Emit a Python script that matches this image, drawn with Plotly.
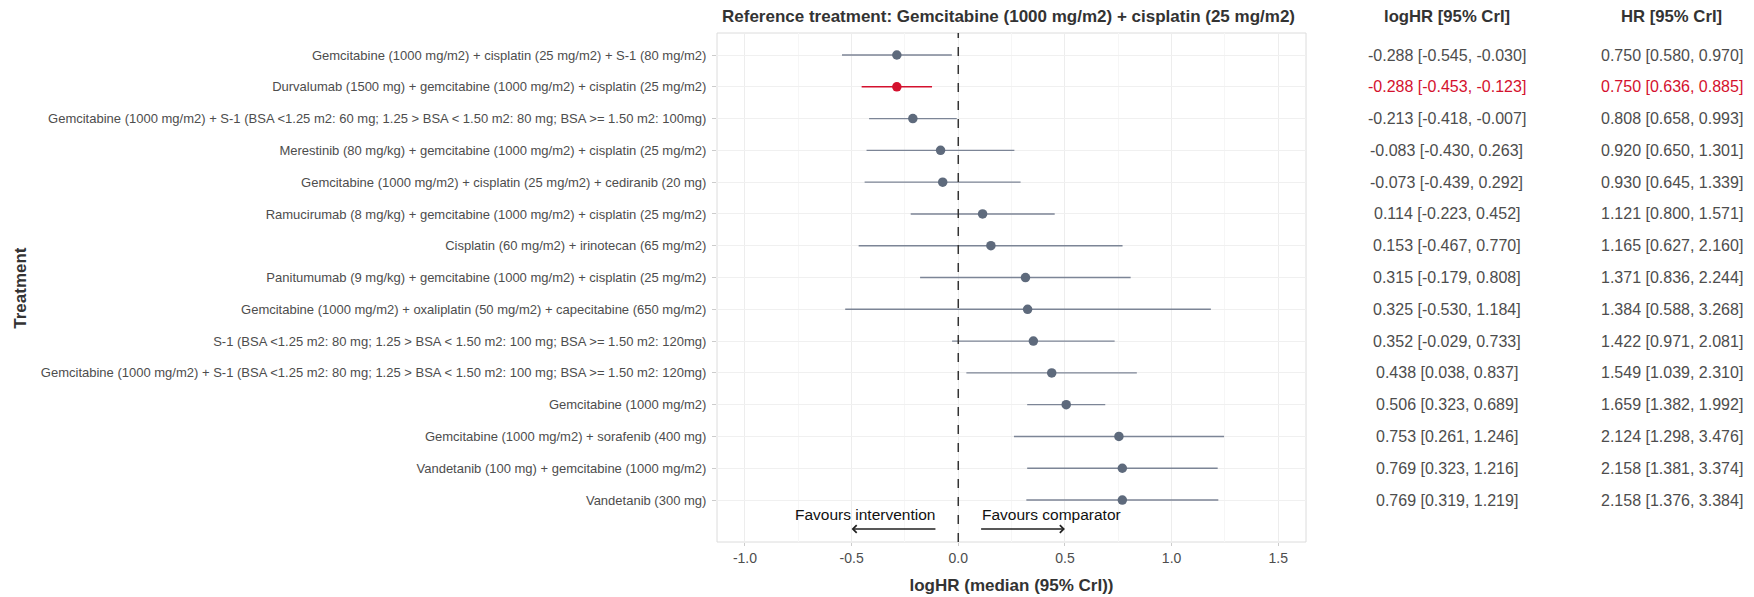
import plotly.graph_objects as go

# ---------------- data ----------------
treatments = [
    "Gemcitabine (1000 mg/m2) + cisplatin (25 mg/m2) + S-1 (80 mg/m2)",
    "Durvalumab (1500 mg) + gemcitabine (1000 mg/m2) + cisplatin (25 mg/m2)",
    "Gemcitabine (1000 mg/m2) + S-1 (BSA <1.25 m2: 60 mg; 1.25 > BSA < 1.50 m2: 80 mg; BSA >= 1.50 m2: 100mg)",
    "Merestinib (80 mg/kg) + gemcitabine (1000 mg/m2) + cisplatin (25 mg/m2)",
    "Gemcitabine (1000 mg/m2) + cisplatin (25 mg/m2) + cediranib (20 mg)",
    "Ramucirumab (8 mg/kg) + gemcitabine (1000 mg/m2) + cisplatin (25 mg/m2)",
    "Cisplatin (60 mg/m2) + irinotecan (65 mg/m2)",
    "Panitumumab (9 mg/kg) + gemcitabine (1000 mg/m2) + cisplatin (25 mg/m2)",
    "Gemcitabine (1000 mg/m2) + oxaliplatin (50 mg/m2) + capecitabine (650 mg/m2)",
    "S-1 (BSA <1.25 m2: 80 mg; 1.25 > BSA < 1.50 m2: 100 mg; BSA >= 1.50 m2: 120mg)",
    "Gemcitabine (1000 mg/m2) + S-1 (BSA <1.25 m2: 80 mg; 1.25 > BSA < 1.50 m2: 100 mg; BSA >= 1.50 m2: 120mg)",
    "Gemcitabine (1000 mg/m2)",
    "Gemcitabine (1000 mg/m2) + sorafenib (400 mg)",
    "Vandetanib (100 mg) + gemcitabine (1000 mg/m2)",
    "Vandetanib (300 mg)",
]
loghr_median = [-0.288, -0.288, -0.213, -0.083, -0.073, 0.114, 0.153, 0.315, 0.325, 0.352, 0.438, 0.506, 0.753, 0.769, 0.769]
loghr_lower = [-0.545, -0.453, -0.418, -0.430, -0.439, -0.223, -0.467, -0.179, -0.530, -0.029, 0.038, 0.323, 0.261, 0.323, 0.319]
loghr_upper = [-0.030, -0.123, -0.007, 0.263, 0.292, 0.452, 0.770, 0.808, 1.184, 0.733, 0.837, 0.689, 1.246, 1.216, 1.219]
hr_median = [0.750, 0.750, 0.808, 0.920, 0.930, 1.121, 1.165, 1.371, 1.384, 1.422, 1.549, 1.659, 2.124, 2.158, 2.158]
hr_lower = [0.580, 0.636, 0.658, 0.650, 0.645, 0.800, 0.627, 0.836, 0.588, 0.971, 1.039, 1.382, 1.298, 1.381, 1.376]
hr_upper = [0.970, 0.885, 0.993, 1.301, 1.339, 1.571, 2.160, 2.244, 3.268, 2.081, 2.310, 1.992, 3.476, 3.374, 3.384]
highlight = "Durvalumab (1500 mg) + gemcitabine (1000 mg/m2) + cisplatin (25 mg/m2)"
x_ticks = [-1.0, -0.5, 0.0, 0.5, 1.0, 1.5]
x_tick_labels = ["-1.0", "-0.5", "0.0", "0.5", "1.0", "1.5"]

title_text = "Reference treatment: Gemcitabine (1000 mg/m2) + cisplatin (25 mg/m2)"
arrow_left_text = "Favours intervention"
arrow_right_text = "Favours comparator"

# ---------------- style ----------------
FONT = "Liberation Sans, Arial, sans-serif"
GREY_PT = "#5e6a7c"
GREY_LN = "#7c8596"
RED = "#d4112e"
TXT = "#4d4d4d"
HDR = "#333333"

rows = list(range(1, len(treatments) + 1))
is_hl = [t == highlight for t in treatments]

fig = go.Figure()
for flag, pcol, lcol in [(False, GREY_PT, GREY_LN), (True, RED, RED)]:
    idx = [i for i in range(len(treatments)) if is_hl[i] == flag]
    fig.add_trace(go.Scatter(
        x=[loghr_median[i] for i in idx],
        y=[rows[i] for i in idx],
        mode="markers",
        marker=dict(size=9.5, color=pcol),
        error_x=dict(
            type="data", symmetric=False,
            array=[loghr_upper[i] - loghr_median[i] for i in idx],
            arrayminus=[loghr_median[i] - loghr_lower[i] for i in idx],
            color=lcol, thickness=1.4, width=0,
        ),
        showlegend=False,
        hoverinfo="skip",
    ))

# reference dashed line
fig.add_shape(type="line", xref="x", yref="paper", x0=0, x1=0, y0=0, y1=1,
              line=dict(color="#333333", width=1.5, dash="dash"), layer="above")
# panel border
fig.add_shape(type="rect", xref="paper", yref="paper", x0=0, x1=1, y0=0, y1=1,
              line=dict(color="#dcdcdc", width=1), layer="below")

# table columns (paper coords relative to panel)
col_loghr_x = 1.239
col_hr_x = 1.621
ann = []
for i, t in enumerate(treatments):
    c = RED if is_hl[i] else TXT
    ann.append(dict(xref="paper", yref="y", x=col_loghr_x, y=rows[i], showarrow=False,
                    text=f"{loghr_median[i]:.3f} [{loghr_lower[i]:.3f}, {loghr_upper[i]:.3f}]",
                    font=dict(family=FONT, size=16, color=c), xanchor="center", yanchor="middle"))
    ann.append(dict(xref="paper", yref="y", x=col_hr_x, y=rows[i], showarrow=False,
                    text=f"{hr_median[i]:.3f} [{hr_lower[i]:.3f}, {hr_upper[i]:.3f}]",
                    font=dict(family=FONT, size=16, color=c), xanchor="center", yanchor="middle"))
hdr_y = 1.032
ann.append(dict(xref="paper", yref="paper", x=col_loghr_x, y=hdr_y, showarrow=False,
                xanchor="center", yanchor="middle",
                text="<b>logHR [95% CrI]</b>", font=dict(family=FONT, size=16.7, color=HDR)))
ann.append(dict(xref="paper", yref="paper", x=col_hr_x, y=hdr_y, showarrow=False,
                xanchor="center", yanchor="middle",
                text="<b>HR [95% CrI]</b>", font=dict(family=FONT, size=16.7, color=HDR)))
ann.append(dict(xref="paper", yref="paper", x=0.005, y=hdr_y, showarrow=False,
                xanchor="left", yanchor="middle",
                text=f"<b>{title_text}</b>", font=dict(family=FONT, size=17, color=HDR)))
# y-axis title
ann.append(dict(xref="paper", yref="paper", x=-1.183, y=0.5, showarrow=False, textangle=-90,
                xanchor="center", yanchor="middle",
                text="<b>Treatment</b>", font=dict(family=FONT, size=17, color=HDR)))

# favour arrows
arrow_y = 15.91
text_y = 15.47
ann.append(dict(xref="x", yref="y", axref="x", ayref="y", x=-0.5, y=arrow_y, ax=-0.1, ay=arrow_y,
                showarrow=True, arrowhead=4, arrowsize=1, arrowwidth=1.5, arrowcolor="#222222", text=""))
ann.append(dict(xref="x", yref="y", axref="x", ayref="y", x=0.5, y=arrow_y, ax=0.1, ay=arrow_y,
                showarrow=True, arrowhead=4, arrowsize=1, arrowwidth=1.5, arrowcolor="#222222", text=""))
ann.append(dict(xref="x", yref="y", x=-0.1, y=text_y, showarrow=False, xanchor="right", yanchor="middle",
                text=arrow_left_text, font=dict(family=FONT, size=15.5, color="#111111")))
ann.append(dict(xref="x", yref="y", x=0.1, y=text_y, showarrow=False, xanchor="left", yanchor="middle",
                text=arrow_right_text, font=dict(family=FONT, size=15.5, color="#111111")))

# page body has an 8px default margin; figure is sized so it ends at the window edge
fig.update_layout(
    width=1746, height=589,
    margin=dict(l=709, r=448, t=25, b=55, autoexpand=False),
    paper_bgcolor="white", plot_bgcolor="white",
    annotations=ann,
    xaxis=dict(
        automargin=False,
        range=[-1.131, 1.63], tickvals=x_ticks, ticktext=x_tick_labels,
        showgrid=True, gridcolor="#ededed", gridwidth=1,
        minor=dict(dtick=0.25, tick0=0.25, showgrid=True, gridcolor="#f6f6f6", gridwidth=0.8),
        zeroline=False, showline=False,
        ticks="outside", ticklen=3, tickcolor="#cccccc",
        tickfont=dict(family=FONT, size=14, color=TXT),
        title=dict(text="<b>logHR (median (95% CrI))</b>", standoff=14,
                   font=dict(family=FONT, size=17, color=HDR)),
    ),
    yaxis=dict(
        automargin=False,
        range=[16.32, 0.308], tickvals=rows, ticktext=treatments,
        showgrid=True, gridcolor="#f0f0f0", gridwidth=1,
        zeroline=False, showline=False,
        ticks="outside", ticklen=4, tickcolor="#cccccc",
        ticklabelstandoff=3,
        tickfont=dict(family=FONT, size=13, color=TXT),
    ),
)

fig.write_html("out.html")
